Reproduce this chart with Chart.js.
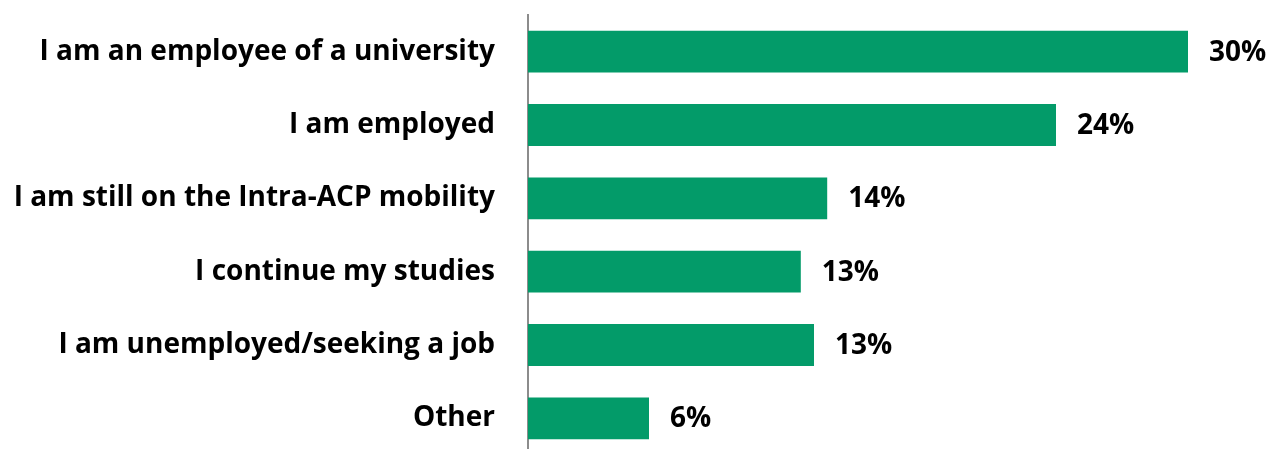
<!DOCTYPE html>
<html lang="en">
<head>
    <meta charset="UTF-8">
    <title>Current situation</title>
    <script src="https://cdn.jsdelivr.net/npm/chart.js"></script>
    <style>
        html, body { margin: 0; padding: 0; background: #fff; overflow: hidden; }
        #wrap { width: 1276px; height: 455px; position: relative; }
    </style>
</head>
<body>
    <div id="wrap">
        <canvas id="chart"></canvas>
    </div>
    <script>
        // categories and values
        var categories = [
            'I am an employee of a university',
            'I am employed',
            'I am still on the Intra-ACP mobility',
            'I continue my studies',
            'I am unemployed/seeking a job',
            'Other'
        ];
        var values = [30.0, 24.0, 13.6, 12.4, 13.0, 5.5];
        var valueLabels = ['30%', '24%', '14%', '13%', '13%', '6%'];

        var fontFamily = '"Open Sans", "DejaVu Sans", sans-serif';
        var fontSize = 28;

        // draws the % text at the end of each bar
        var valueLabelPlugin = {
            id: 'valueLabels',
            afterDatasetsDraw: function(chart) {
                var ctx = chart.ctx;
                var meta = chart.getDatasetMeta(0);
                ctx.save();
                ctx.font = 'bold ' + fontSize + 'px ' + fontFamily;
                ctx.fillStyle = '#000';
                ctx.textAlign = 'left';
                ctx.textBaseline = 'middle';
                meta.data.forEach(function(bar, i) {
                    ctx.fillText(valueLabels[i], bar.x + 21, bar.y + 1);
                });
                ctx.restore();
            }
        };

        var ctx = document.getElementById('chart').getContext('2d');
        var chart = new Chart(ctx, {
            type: 'bar',
            data: {
                labels: categories,
                datasets: [{
                    data: values,
                    backgroundColor: '#039B69',
                    borderWidth: 0,
                    barPercentage: 0.57,
                    categoryPercentage: 1.0
                }]
            },
            options: {
                indexAxis: 'y',
                responsive: true,
                maintainAspectRatio: false,
                animation: false,
                layout: { padding: { top: 15, right: 0, bottom: 0, left: 0 } },
                plugins: {
                    legend: { display: false },
                    tooltip: { enabled: false }
                },
                scales: {
                    x: {
                        display: false,
                        min: 0,
                        max: 34
                    },
                    y: {
                        grid: { display: false, drawTicks: false },
                        border: { display: true, color: '#8C8C8C', width: 2 },
                        ticks: {
                            color: '#000',
                            padding: 33,
                            font: { family: fontFamily, size: fontSize, weight: 'bold' }
                        },
                        afterFit: function(scale) {
                            scale.width = 528;
                            scale.paddingTop = 0;
                            scale.paddingBottom = 0;
                        }
                    }
                }
            },
            plugins: [valueLabelPlugin]
        });
    </script>
</body>
</html>
